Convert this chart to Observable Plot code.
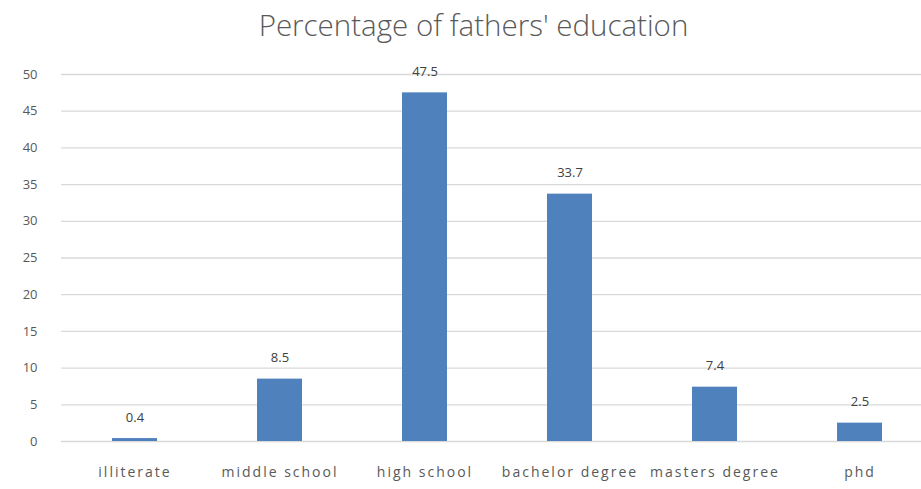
<!DOCTYPE html>
<html><head><meta charset="utf-8">
<script src="https://cdn.jsdelivr.net/npm/d3@7"></script>
<script src="https://cdn.jsdelivr.net/npm/@observablehq/plot@0.6"></script>
<style>
body{margin:0;background:#fff;font-family:"Open Sans",sans-serif;}
#title{height:50px;line-height:50px;font-size:29.5px;font-weight:300;color:#595959;text-align:center;width:921px;padding-left:26px;box-sizing:border-box;white-space:nowrap;}
</style></head><body>
<div id="title">Percentage of fathers' education</div>
<div id="chart"></div>
<script>
const categories = ["illiterate","middle school","high school","bachelor degree","masters degree","phd"];
const values = [0.4, 8.5, 47.5, 33.7, 7.4, 2.5];
const yTicks = [0,5,10,15,20,25,30,35,40,45,50];
const data = categories.map((c,i)=>({category:c, value:values[i]}));
const chart = Plot.plot({
  width: 921, height: 439,
  marginLeft: 61, marginRight: -11, marginTop: 24, marginBottom: 48,
  style:{fontFamily:"Open Sans, sans-serif", fontSize:"13px", color:"#595959", background:"#fff"},
  x:{domain:categories, paddingInner:0.69, paddingOuter:0.345, label:null, tickSize:0, tickPadding:26},
  y:{domain:[0,50], ticks:yTicks, label:null, tickSize:0, tickPadding:24},
  marks:[
    Plot.gridY(yTicks.filter(t=>t>0), {stroke:"#d9d9d9", strokeOpacity:1, strokeWidth:1.3}),
    Plot.ruleY([0], {stroke:"#d9d9d9", strokeWidth:1.3}),
    Plot.barY(data, {x:"category", y:"value", fill:"#4f81bd"}),
    Plot.text(data, {x:"category", y:"value", text:d=>d.value.toFixed(1), dy:-21, fill:"#404040", fontSize:13})
  ]
});
d3.select(chart).selectAll('g[aria-label="x-axis tick label"]').style("font-size","14px").style("letter-spacing","2px");
document.getElementById("chart").appendChild(chart);
</script>
</body></html>
